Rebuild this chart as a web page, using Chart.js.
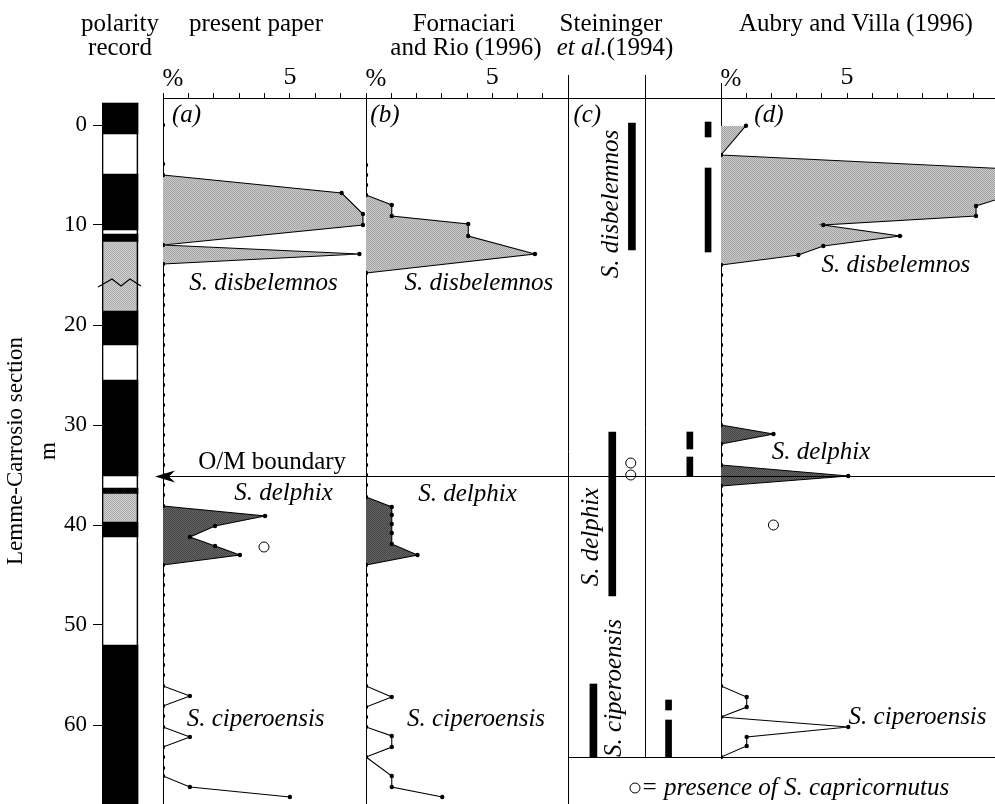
<!DOCTYPE html>
<html><head><meta charset="utf-8">
<script src="https://cdn.jsdelivr.net/npm/chart.js@4.4.1/dist/chart.umd.min.js"></script>
<style>html,body{margin:0;padding:0;background:#fff;}#wrap{position:relative;width:995px;height:804px;}</style>
</head><body><div id="wrap"><canvas id="c" width="995" height="804"></canvas></div>
<script>
// ---------------- DATA ----------------
const DEPTH_TICKS = [0, 10, 20, 30, 40, 50, 60];
const PCT_TICKS_AB = [0, 1, 2, 3, 4, 5, 6, 7, 8];
const PCT_TICKS_D = [0, 1, 2, 3, 4, 5, 6, 7, 8, 9, 10];

// polarity record: black (n = normal) and grey (u = uncertain) intervals, white elsewhere
const polTop    = [-2.2, 4.9, 10.9, 11.7, 18.6, 25.5, 36.3, 36.9, 39.7, 52];
const polBottom = [0.9, 10.5, 11.7, 18.6, 22, 35.1, 36.9, 39.7, 41.2, 67.9];
const polType   = ['n', 'n', 'n', 'u', 'n', 'n', 'n', 'u', 'n', 'n'];
const polExtent = [-2.2, 67.9];
const polBreakDepth = 15.8;

// (a) present paper
const aZeroDepth = [0, 3.9, 15, 16, 17, 18, 19, 20, 21, 22, 23, 24, 25, 26, 27, 28, 29, 30, 31, 32, 33, 34, 35, 36, 37,
  45, 46, 47, 48, 49, 50, 51, 52, 53, 54, 55];
const aDisbDepth = [5, 6.8, 8.9, 10, 12, 12.9, 13.9];
const aDisbPct   = [0, 7.04, 7.88, 7.88, 0, 7.74, 0];
const aDelphDepth = [38.1, 39.1, 40.1, 41.2, 42.1, 43, 44];
const aDelphPct   = [0, 4.02, 2.05, 1.06, 2.05, 3.03, 0];
const aCipDepth = [56.1, 57.1, 58.1, 59.1, 60.2, 61.2, 62.2, 63.2, 64.3, 65.1, 66.2, 67.2];
const aCipPct   = [0, 1.06, 0, 0, 0, 1.06, 0, 0, 0, 0, 1.06, 5.0];
const aCaprDepth = [42.2];
const aCaprPct = [3.98];

// (b) Fornaciari and Rio (1996)
const bZeroDepth = [4, 5, 6, 16, 17, 18, 19, 20, 21, 22, 23, 24, 25, 26, 27, 28, 29, 30, 31, 32, 33, 34, 35, 36,
  45, 46, 47, 48, 49, 50, 51, 52, 53, 54, 55];
const bDisbDepth = [7, 8, 9.1, 9.9, 11.1, 12.9, 14.8];
const bDisbPct   = [0, 1.02, 1.02, 4.05, 4.05, 6.69, 0];
const bDelphDepth = [37.2, 38.2, 39, 39.9, 40.8, 41.9, 43, 44];
const bDelphPct   = [0, 1.02, 1.02, 1.02, 1.02, 1.02, 2.04, 0];
const bCipDepth = [56.1, 57.2, 58.2, 59.2, 60.2, 61.1, 62.2, 63.2, 65.1, 66.2, 67.2];
const bCipPct   = [0, 1.02, 0, 0, 0, 1.02, 1.02, 0, 1.02, 1.02, 3.02];

// (c) Steininger et al. (1994) ranges
const cSpecies = ['S. disbelemnos', 'S. delphix', 'S. ciperoensis'];
const cTop     = [-0.2, 30.7, 55.9];
const cBottom  = [12.5, 47.1, 63.2];
const cCaprDepth = [33.8, 35.0];
// second range column
const c2Species = ['S. disbelemnos', 'S. disbelemnos', 'S. delphix', 'S. delphix', 'S. ciperoensis', 'S. ciperoensis'];
const c2Top    = [-0.3, 4.3, 30.7, 33.2, 57.5, 59.5];
const c2Bottom = [1.2, 12.7, 32.4, 35.1, 58.5, 63.2];

// (d) Aubry and Villa (1996)
const dZeroDepth = [15, 16, 17, 18, 19, 20, 21, 22, 23, 24, 25, 26, 27, 28, 29,
  37, 38, 39, 40, 41, 42, 43, 44, 45, 46, 47, 48, 49, 50, 51, 52, 53, 54, 55];
const dDisbDepth = [0.07, 3.0, 4.75, 8.1, 9.1, 10.0, 11.1, 12.1, 13.0, 14.0];
const dDisbPct   = [0.99, 0, 14.3, 10.12, 10.12, 4.06, 7.10, 4.06, 3.07, 0];
const dDelphDepth = [30.0, 30.9, 31.9, 33.0, 34.0, 35.1, 36.1];
const dDelphPct   = [0, 2.08, 0, 0, 0, 5.05, 0];
const dCipDepth = [56.1, 57.2, 58.2, 59.2, 60.2, 61.2, 62.1, 63.2];
const dCipPct   = [0, 1.02, 1.02, 0, 5.05, 1.02, 1.02, 0];
const dCaprDepth = [40.0];
const dCaprPct = [2.08];

const OM_DEPTH = 35.1;       // O/M boundary
const RANGE_BASE = 63.2;     // base of columns (c) and (d)

// ---------------- LAYOUT / STYLE ----------------
const SERIF = '"Liberation Serif", "Times New Roman", serif';
const FS = 25;
const BLACK = '#000';
const CLEAR = 'rgba(0,0,0,0)';
function stipple(c1, c2) {
  const cv = document.createElement('canvas');
  cv.width = 2; cv.height = 2;
  const g = cv.getContext('2d');
  g.fillStyle = c1; g.fillRect(0, 0, 2, 2);
  g.fillStyle = c2; g.fillRect(0, 0, 1, 1); g.fillRect(1, 1, 1, 1);
  return g.createPattern(cv, 'repeat');
}
const LIGHT = stipple('#c9c9c9', '#a4a4a4');
const DARK = stipple('#666666', '#444444');
const POL_GREY = stipple('#d0d0d0', '#acacac');
const TOP_AXIS_H = 30;
const POL_X = 0.295;
const C_COL_X = {'S. disbelemnos': 0.83, 'S. delphix': 0.575, 'S. ciperoensis': 0.33};
const C2_COL_X = {'S. disbelemnos': 0.83, 'S. delphix': 0.59, 'S. ciperoensis': 0.31};
const C_CAPR_X = 0.815;

function zeroDots(axis, depths) {
  return {type: 'line', indexAxis: 'y', xAxisID: axis, yAxisID: 'y',
    data: depths.map(d => ({x: 0, y: d})), showLine: false,
    pointRadius: 2.2, pointBackgroundColor: BLACK, pointBorderWidth: 0, order: 5};
}
function profile(axis, depths, pct, fillColor) {
  return {type: 'line', indexAxis: 'y', xAxisID: axis, yAxisID: 'y',
    data: depths.map((d, i) => ({x: pct[i], y: d})),
    borderColor: BLACK, borderWidth: 1.1, tension: 0,
    pointRadius: 2.2, pointBackgroundColor: BLACK, pointBorderWidth: 0,
    fill: fillColor ? 'origin' : false, backgroundColor: fillColor || CLEAR, order: 6};
}
function capr(axis, depths, xs) {
  return {type: 'scatter', xAxisID: axis, yAxisID: 'y',
    data: depths.map((d, i) => ({x: xs[i], y: d})),
    pointRadius: 5, pointBackgroundColor: '#fff', pointBorderColor: BLACK, pointBorderWidth: 1, order: 1};
}
function bars(axis, xs, tops, bottoms, thickness, colors, extra) {
  return Object.assign({type: 'bar', indexAxis: 'x', xAxisID: axis, yAxisID: 'y', grouped: false,
    data: tops.map((t, i) => ({x: xs[i], y: [t, bottoms[i]]})),
    backgroundColor: colors, borderWidth: 0, barThickness: thickness, order: 3}, extra || {});
}

const datasets = [
  bars('xp', [POL_X], [polExtent[0]], [polExtent[1]], 36, '#fff', {order: 30}),
  bars('xp', polTop.map(() => POL_X), polTop, polBottom, 36, polType.map(t => t === 'n' ? BLACK : POL_GREY), {order: 29}),
  bars('xp', [POL_X], [polExtent[0]], [polExtent[1]], 36, CLEAR, {order: 28, borderWidth: 1, borderColor: BLACK, borderSkipped: false}),
  zeroDots('xa', aZeroDepth),
  profile('xa', aDisbDepth, aDisbPct, LIGHT),
  profile('xa', aDelphDepth, aDelphPct, DARK),
  profile('xa', aCipDepth, aCipPct, null),
  capr('xa', aCaprDepth, aCaprPct),
  zeroDots('xb', bZeroDepth),
  profile('xb', bDisbDepth, bDisbPct, LIGHT),
  profile('xb', bDelphDepth, bDelphPct, DARK),
  profile('xb', bCipDepth, bCipPct, null),
  bars('xc', cSpecies.map(s => C_COL_X[s]), cTop, cBottom, 7, BLACK),
  capr('xc', cCaprDepth, cCaprDepth.map(() => C_CAPR_X)),
  bars('xc2', c2Species.map(s => C2_COL_X[s]), c2Top, c2Bottom, 6, BLACK),
  zeroDots('xd', dZeroDepth),
  profile('xd', dDisbDepth, dDisbPct, LIGHT),
  profile('xd', dDelphDepth, dDelphPct, DARK),
  profile('xd', dCipDepth, dCipPct, null),
  capr('xd', dCaprDepth, dCaprPct)
];

function topAxis(weight, min, max, extra) {
  return Object.assign({
    type: 'linear', position: 'top', stack: 'panels', stackWeight: weight, min, max, offset: false,
    afterFit: s => { s.height = TOP_AXIS_H; s.paddingLeft = 0; s.paddingRight = 0; }
  }, extra);
}
const pctTicks = {autoSkip: false, maxRotation: 0, padding: 0, color: BLACK,
  font: {family: SERIF, size: 26}, callback: v => (v === 5 ? '5' : '')};
const border = {display: true, color: BLACK, width: 1};
const onlyZero = s => { s.ticks = [{value: 0}]; };

// top panels are laid out right-to-left by Chart.js, so they are listed from the right
const scales = {
  y: {type: 'linear', position: 'left', reverse: true, min: -2.7, max: 67.9, stacked: false,
    afterBuildTicks: s => { s.ticks = DEPTH_TICKS.map(v => ({value: v})); },
    afterFit: s => { s.width = 102; s.paddingTop = 0; s.paddingBottom = 0; },
    grid: {drawOnChartArea: false, tickLength: 9, tickColor: BLACK, color: BLACK},
    border: {display: false},
    ticks: {color: BLACK, font: {family: SERIF, size: 23}, padding: 6, callback: v => String(v)},
    title: {display: true, text: ['Lemme-Carrosio section', 'm'], color: BLACK,
      font: {family: SERIF, size: 23, lineHeight: 1.43}, padding: {top: 0, bottom: 0}}
  },
  xd: topAxis(274, 0, 274 / 25.2, {
    afterBuildTicks: s => { s.ticks = PCT_TICKS_D.map(v => ({value: v})); },
    grid: {offset: false, drawOnChartArea: false, color: BLACK, tickColor: BLACK, tickLength: 5},
    border, ticks: pctTicks}),
  xc2: topAxis(76, 0, 1, {
    afterBuildTicks: onlyZero,
    grid: {offset: false, drawOnChartArea: false, color: BLACK, tickColor: BLACK, tickLength: 23},
    border, ticks: {callback: () => ''}}),
  xc: topAxis(77, 0, 1, {
    afterBuildTicks: onlyZero,
    grid: {offset: false, drawOnChartArea: true, color: BLACK, tickColor: BLACK, tickLength: 23},
    border, ticks: {callback: () => ''}}),
  xb: topAxis(202, 0, 8, {
    afterBuildTicks: s => { s.ticks = PCT_TICKS_AB.map(v => ({value: v})); },
    grid: {offset: false, drawOnChartArea: true, color: c => (c.tick && c.tick.value === 0 ? BLACK : CLEAR), tickColor: BLACK, tickLength: 5},
    border, ticks: pctTicks}),
  xa: topAxis(203, 0, 8, {
    afterBuildTicks: s => { s.ticks = PCT_TICKS_AB.map(v => ({value: v})); },
    grid: {offset: false, drawOnChartArea: true, color: c => (c.tick && c.tick.value === 0 ? BLACK : CLEAR), tickColor: BLACK, tickLength: 5},
    border, ticks: pctTicks}),
  xp: topAxis(61, 0, 1, {
    afterBuildTicks: onlyZero,
    grid: {offset: false, drawOnChartArea: false, drawTicks: false, color: CLEAR},
    border: {display: false}, ticks: {callback: () => ''}})
};

// ---------------- TEXT ----------------
const PANEL_LABELS = [
  ['xa', 0.93, -1.0, '(a)'], ['xb', 0.75, -1.0, '(b)'], ['xc', 0.25, -1.0, '(c)'], ['xd', 1.9, -1.0, '(d)'],
  ['xa', 3.96, 15.8, 'S. disbelemnos'], ['xb', 4.47, 15.8, 'S. disbelemnos'], ['xd', 6.94, 14.0, 'S. disbelemnos'],
  ['xa', 4.75, 36.8, 'S. delphix'], ['xb', 4.02, 36.9, 'S. delphix'], ['xd', 3.97, 32.7, 'S. delphix'],
  ['xa', 3.65, 59.4, 'S. ciperoensis'], ['xb', 4.36, 59.4, 'S. ciperoensis'], ['xd', 7.8, 59.2, 'S. ciperoensis']
];
const C_ROT_LABELS = [
  [0.56, 7.9, 'S. disbelemnos'], [0.30, 41.2, 'S. delphix'], [0.60, 56.3, 'S. ciperoensis']
];

function line(ctx, x1, y1, x2, y2) { ctx.beginPath(); ctx.moveTo(x1, y1); ctx.lineTo(x2, y2); ctx.stroke(); }
const al = v => Math.round(v) + 0.5;

const decor = {
  id: 'decor',
  beforeDatasetsDraw(chart) {
    const {ctx, chartArea: ca, scales: s} = chart;
    const yb = al(s.y.getPixelForValue(RANGE_BASE));
    ctx.save();
    ctx.strokeStyle = BLACK; ctx.lineWidth = 1;
    line(ctx, al(s.xc2.left), ca.top, al(s.xc2.left), yb);
    const xd0 = al(s.xd.getPixelForValue(0));
    line(ctx, xd0, ca.top - 15, xd0, yb);
    line(ctx, s.xc.left, yb, ca.right, yb);
    ctx.restore();
  },
  afterDatasetsDraw(chart) {
    const {ctx, chartArea: ca, scales: s} = chart;
    ctx.save();
    ctx.strokeStyle = BLACK; ctx.fillStyle = BLACK; ctx.lineWidth = 1;
    const yo = al(s.y.getPixelForValue(OM_DEPTH));
    const tip = s.xa.left - 8;
    line(ctx, tip + 4, yo, ca.right, yo);
    ctx.beginPath();
    ctx.moveTo(tip, yo); ctx.lineTo(tip + 20, yo - 6); ctx.lineTo(tip + 14, yo); ctx.lineTo(tip + 20, yo + 6);
    ctx.closePath(); ctx.fill();
    const yz = s.y.getPixelForValue(polBreakDepth);
    const xc = s.xp.getPixelForValue(POL_X);
    ctx.lineWidth = 1.2;
    ctx.beginPath();
    ctx.moveTo(xc - 22, yz + 4); ctx.lineTo(xc - 8, yz - 4); ctx.lineTo(xc + 1, yz + 3);
    ctx.lineTo(xc + 10, yz - 4); ctx.lineTo(xc + 21, yz + 3);
    ctx.stroke();
    ctx.restore();
  },
  afterDraw(chart) {
    const {ctx, scales: s} = chart;
    ctx.save();
    ctx.fillStyle = BLACK;
    const F = (it) => (it ? 'italic ' : '') + FS + 'px ' + SERIF;
    const t = (str, x, y, it, align, base) => {
      ctx.font = F(it); ctx.textAlign = align || 'center'; ctx.textBaseline = base || 'middle';
      ctx.fillText(str, x, y);
    };
    t('polarity', 120, 31, false, 'center', 'alphabetic');
    t('record', 120, 55, false, 'center', 'alphabetic');
    t('present paper', 256, 31, false, 'center', 'alphabetic');
    t('Fornaciari', 464, 31, false, 'center', 'alphabetic');
    t('and Rio (1996)', 466, 55, false, 'center', 'alphabetic');
    t('Steininger', 611, 31, false, 'center', 'alphabetic');
    ctx.font = F(true); const w1 = ctx.measureText('et al.').width;
    ctx.font = F(false); const w2 = ctx.measureText('(1994)').width;
    const x0 = 615 - (w1 + w2) / 2;
    t('et al.', x0, 55, true, 'left', 'alphabetic');
    t('(1994)', x0 + w1, 55, false, 'left', 'alphabetic');
    t('Aubry and Villa (1996)', 856, 31, false, 'center', 'alphabetic');
    ['xa', 'xb', 'xd'].forEach(id => t('%', s[id].getPixelForValue(0) + 10, 79, false));
    PANEL_LABELS.forEach(([id, xv, d, str]) => t(str, s[id].getPixelForValue(xv), s.y.getPixelForValue(d), true));
    t('O/M boundary', s.xa.getPixelForValue(4.3), s.y.getPixelForValue(33.7), false);
    C_ROT_LABELS.forEach(([xv, d, str]) => {
      ctx.save();
      ctx.translate(s.xc.getPixelForValue(xv), s.y.getPixelForValue(d));
      ctx.rotate(-Math.PI / 2);
      t(str, 0, 0, true);
      ctx.restore();
    });
    ctx.strokeStyle = BLACK; ctx.lineWidth = 1;
    ctx.beginPath(); ctx.arc(635, 788, 5, 0, Math.PI * 2); ctx.stroke();
    t('= presence of S. capricornutus', 641, 788, true, 'left');
    ctx.restore();
  }
};

new Chart(document.getElementById('c'), {
  type: 'line',
  data: {datasets},
  options: {
    responsive: false, animation: false, devicePixelRatio: 1,
    layout: {autoPadding: false, padding: {top: 68, left: 0, right: 0, bottom: 0}},
    plugins: {legend: {display: false}, tooltip: {enabled: false}},
    scales
  },
  plugins: [decor]
});
</script></body></html>
